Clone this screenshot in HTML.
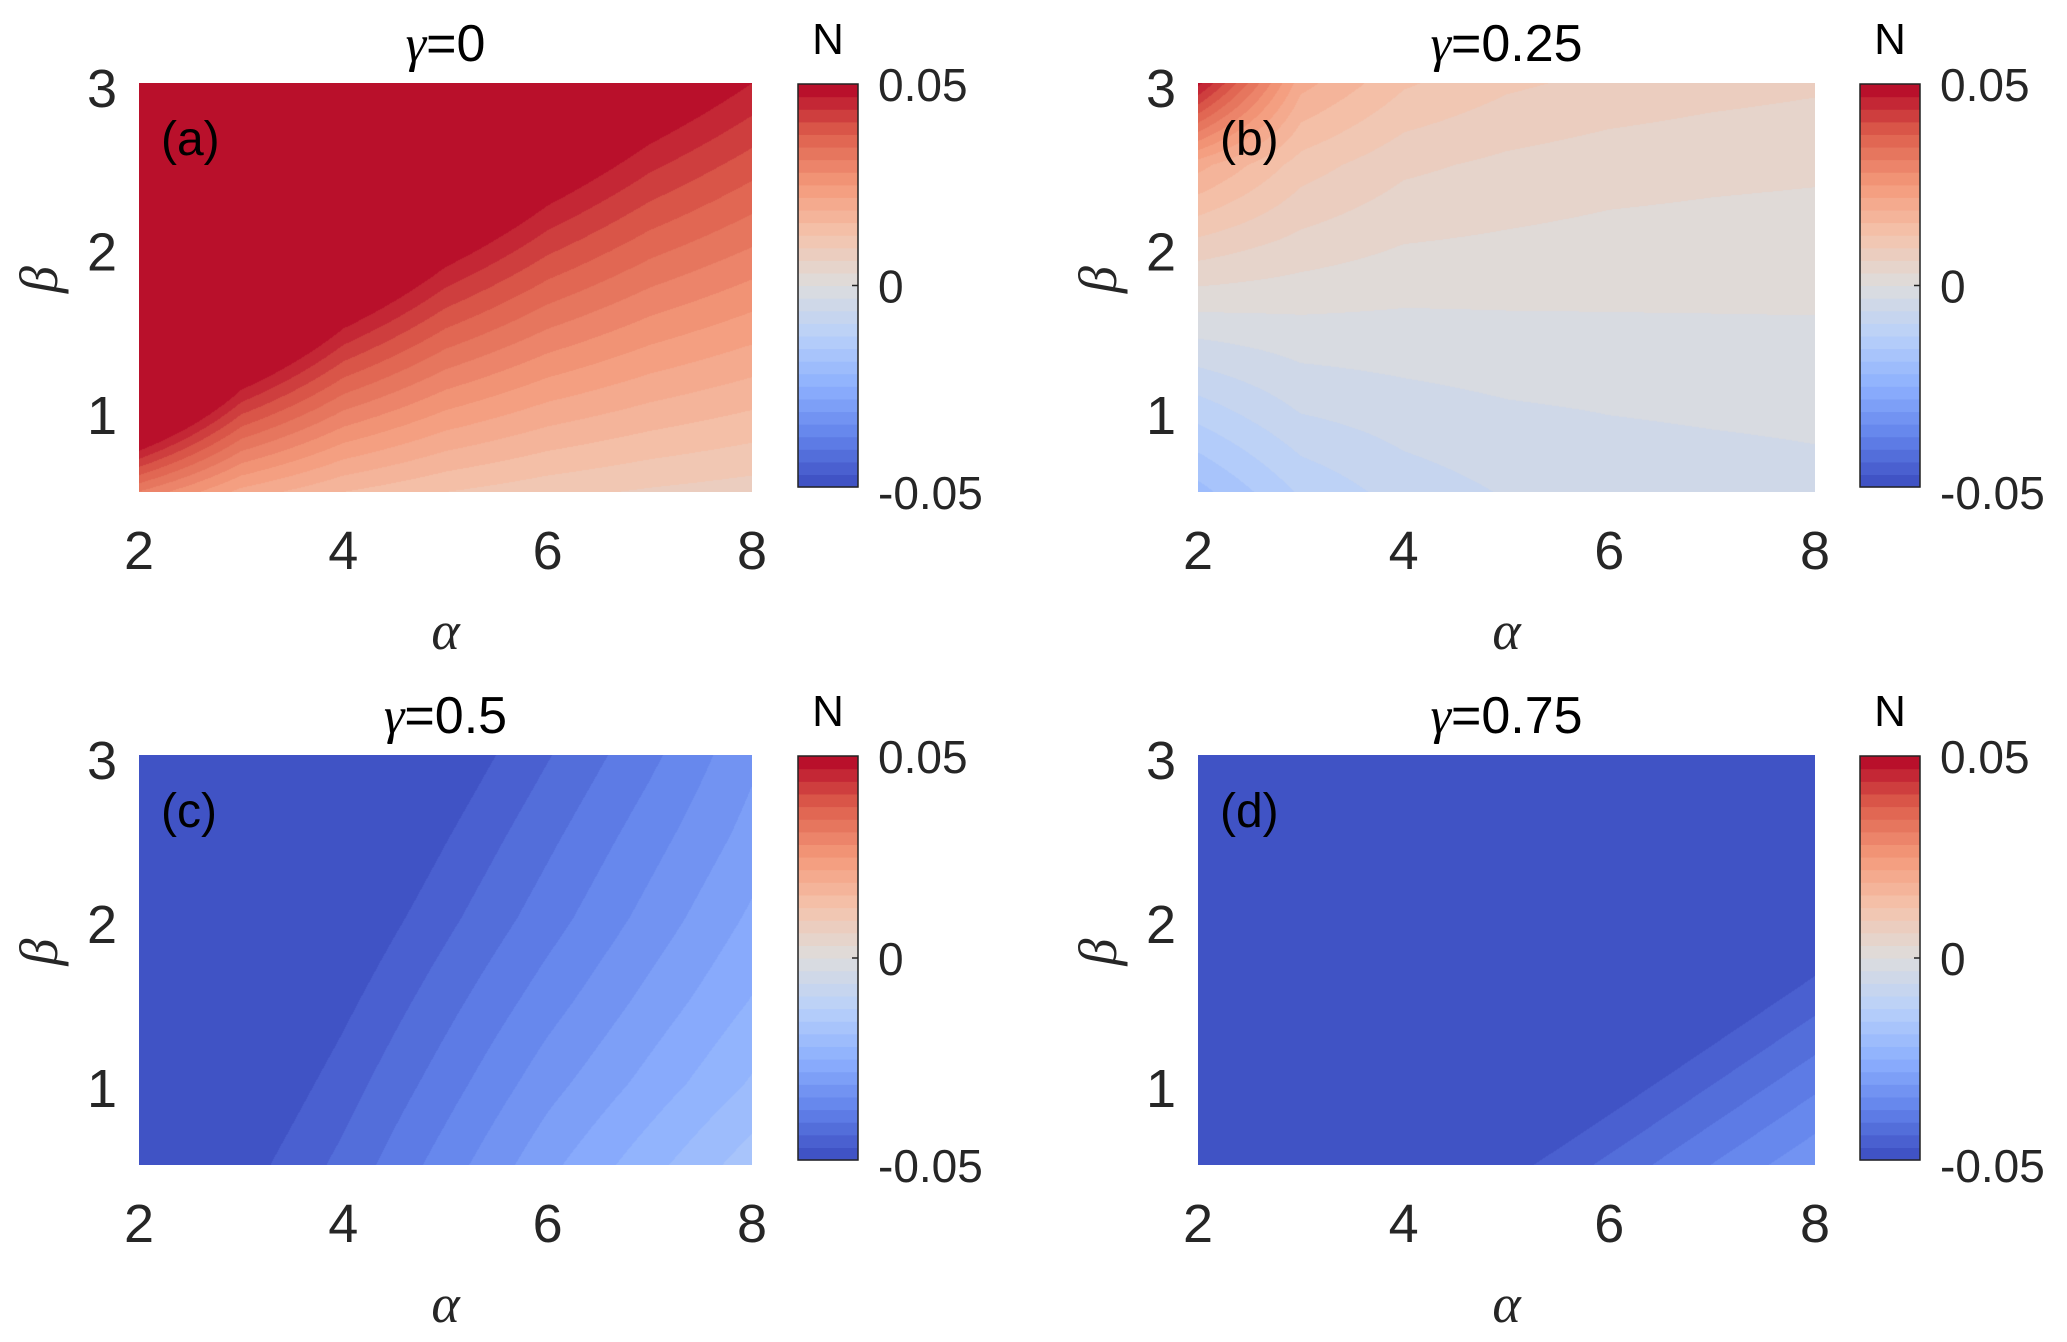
<!DOCTYPE html>
<html><head><meta charset="utf-8"><style>
body{margin:0;background:#fff;}
#wrap{position:relative;width:2067px;height:1342px;overflow:hidden;background:#fff;}
canvas{position:absolute;}
svg{position:absolute;left:0;top:0;}
</style></head><body>
<div id="wrap">
<canvas id="cv-a"></canvas>
<canvas id="cv-b"></canvas>
<canvas id="cv-c"></canvas>
<canvas id="cv-d"></canvas>
<svg id="ov" width="2067" height="1342" xmlns="http://www.w3.org/2000/svg"></svg>
</div>
<script>
// grid axes
const alphas = [2,3,4,5,6,7,8];
const betas = [0.5,1,1.5,2,2.5,3];
const xTicks = [2,4,6,8];
const yTicks = [1,2,3];
const cbTicks = [0.05,0,-0.05];
const cbTickLabels = ["0.05","0","-0.05"];
const nLevels = 32;
const titles = ["0","0.25","0.5","0.75"];
const panelLabels = ["(a)","(b)","(c)","(d)"];
// values N[alphaIndex][betaIndex] (values beyond ±0.05 saturate in the colour scale)
const valuesA = [
 [0.031,0.0625,0.094,0.125,0.156,0.1875],
 [0.0208,0.0417,0.0625,0.0833,0.104,0.125],
 [0.0156,0.0313,0.0469,0.0625,0.078,0.094],
 [0.0125,0.025,0.0375,0.05,0.0625,0.075],
 [0.0104,0.0208,0.0313,0.0417,0.052,0.0625],
 [0.0089,0.0179,0.0268,0.0357,0.0446,0.0536],
 [0.0078,0.0156,0.0234,0.0313,0.039,0.0469]];
const valuesB = [
 [-0.020,-0.011,-0.002,0.008,0.020,0.048],
 [-0.012,-0.006,-0.001,0.005,0.011,0.020],
 [-0.008,-0.0045,-0.001,0.003,0.007,0.013],
 [-0.006,-0.0035,-0.0007,0.0025,0.0055,0.010],
 [-0.005,-0.003,-0.0005,0.002,0.0045,0.0085],
 [-0.0045,-0.0027,-0.0004,0.0018,0.004,0.0075],
 [-0.004,-0.0025,-0.0003,0.0016,0.0037,0.0068]];
const valuesC = [
 [-0.0542,-0.0567,-0.0592,-0.0617,-0.0643,-0.0668],
 [-0.0485,-0.0510,-0.0535,-0.0560,-0.0586,-0.0610],
 [-0.0428,-0.0453,-0.0478,-0.0503,-0.0529,-0.0554],
 [-0.0360,-0.0390,-0.0418,-0.0446,-0.0471,-0.0497],
 [-0.0290,-0.0325,-0.0358,-0.0389,-0.0414,-0.0440],
 [-0.0230,-0.0270,-0.0302,-0.0332,-0.0357,-0.0383],
 [-0.0170,-0.0215,-0.0248,-0.0275,-0.0300,-0.0320]];
const valuesD = [
 [-0.0647,-0.0712,-0.0777,-0.0842,-0.0907,-0.0972],
 [-0.0592,-0.0657,-0.0722,-0.0787,-0.0852,-0.0917],
 [-0.0538,-0.0603,-0.0668,-0.0733,-0.0798,-0.0863],
 [-0.0483,-0.0548,-0.0613,-0.0678,-0.0743,-0.0808],
 [-0.0429,-0.0494,-0.0559,-0.0624,-0.0689,-0.0754],
 [-0.0374,-0.0439,-0.0504,-0.0569,-0.0634,-0.0699],
 [-0.0319,-0.0384,-0.0449,-0.0514,-0.0579,-0.0644]];

const panels = [
 {id:'a', vals:valuesA, x0:139, x1:752, y0:83, y1:492, cbx:798},
 {id:'b', vals:valuesB, x0:1198, x1:1815, y0:83, y1:492, cbx:1860},
 {id:'c', vals:valuesC, x0:139, x1:752, y0:755, y1:1165, cbx:798},
 {id:'d', vals:valuesD, x0:1198, x1:1815, y0:755, y1:1165, cbx:1860}];

const cmapStops=[[0,[59,76,192]],[0.125,[98,130,234]],[0.25,[141,176,254]],[0.375,[184,208,249]],[0.5,[221,221,221]],[0.625,[244,196,173]],[0.75,[244,154,123]],[0.875,[222,96,77]],[1,[180,4,38]]];
function cmap(t){t=Math.max(0,Math.min(1,t));for(let i=1;i<cmapStops.length;i++){if(t<=cmapStops[i][0]){const a=cmapStops[i-1],b=cmapStops[i];const f=(t-a[0])/(b[0]-a[0]);return a[1].map((c,k)=>Math.round(c+(b[1][k]-c)*f));}}return cmapStops[cmapStops.length-1][1];}
const vmin=-0.05,vmax=0.05;
function levelColor(v){let k=Math.floor((v-vmin)/(vmax-vmin)*nLevels);k=Math.max(0,Math.min(nLevels-1,k));return cmap((k+0.5)/nLevels);}
function sample(vals,a,b){
 let i=(a-alphas[0])/(alphas[1]-alphas[0]);let j=(b-betas[0])/(betas[1]-betas[0]);
 i=Math.max(0,Math.min(alphas.length-1.0001,i));j=Math.max(0,Math.min(betas.length-1.0001,j));
 const i0=Math.floor(i),j0=Math.floor(j),fi=i-i0,fj=j-j0;
 return vals[i0][j0]*(1-fi)*(1-fj)+vals[i0+1][j0]*fi*(1-fj)+vals[i0][j0+1]*(1-fi)*fj+vals[i0+1][j0+1]*fi*fj;}

const NS='http://www.w3.org/2000/svg';
const ov=document.getElementById('ov');
function mk(tag,attrs,parent){const e=document.createElementNS(NS,tag);for(const k in attrs)e.setAttribute(k,attrs[k]);(parent||ov).appendChild(e);return e;}
function txt(s,attrs,parent){const e=mk('text',attrs,parent);e.textContent=s;return e;}

panels.forEach((p,pi)=>{
 const xs=a=>p.x0+(a-2)/(8-2)*(p.x1-p.x0);
 const ys=b=>p.y1-(b-0.5)/(3-0.5)*(p.y1-p.y0);
 const cv=document.getElementById('cv-'+p.id);
 const W=p.x1-p.x0,H=p.y1-p.y0;
 cv.width=W;cv.height=H;cv.style.left=p.x0+'px';cv.style.top=p.y0+'px';
 const ctx=cv.getContext('2d');const img=ctx.createImageData(W,H);
 for(let y=0;y<H;y++){const b=3-(y+0.5)/H*2.5;for(let x=0;x<W;x++){const a=2+(x+0.5)/W*6;const c=levelColor(sample(p.vals,a,b));const o=(y*W+x)*4;img.data[o]=c[0];img.data[o+1]=c[1];img.data[o+2]=c[2];img.data[o+3]=255;}}
 ctx.putImageData(img,0,0);
 const g=mk('g',{});
 
 
 const cx=(p.x0+p.x1)/2;
 const t=txt('',{x:cx,y:p.y0-22,'font-size':52,'text-anchor':'middle','font-family':'Liberation Sans, sans-serif',fill:'#000'},g);
 
 
 const ts=document.createElementNS(NS,'tspan');ts.setAttribute('font-family','Liberation Serif, serif');ts.setAttribute('font-style','italic');ts.textContent='γ';t.appendChild(ts);
 const ts2=document.createElementNS(NS,'tspan');ts2.textContent='='+titles[pi];t.appendChild(ts2);
 const pl=txt(panelLabels[pi],{x:p.x0+22,y:p.y0+72,'font-size':48,'font-family':'Liberation Sans, sans-serif',fill:'#000'},g);
 
 
 xTicks.forEach(v=>{const e=txt(String(v),{x:xs(v),y:p.y1+77,'font-size':54,'text-anchor':'middle','font-family':'Liberation Sans, sans-serif',fill:'#262626'},g);
  
  });
 yTicks.forEach(v=>{const e=txt(String(v),{x:p.x0-22,y:ys(v)+24,'font-size':54,'text-anchor':'end','font-family':'Liberation Sans, sans-serif',fill:'#262626'},g);
  
  });
 const xl=txt('α',{x:cx,y:p.y1+157,'font-size':54,'text-anchor':'middle','font-family':'Liberation Serif, serif','font-style':'italic',fill:'#262626'},g);
 
 
 const yc=(p.y0+p.y1)/2-8, ylx=p.x0-82;
 const yl=txt('β',{x:ylx,y:yc,'font-size':54,'text-anchor':'middle','font-family':'Liberation Serif, serif','font-style':'italic',fill:'#262626',transform:`rotate(-90 ${ylx} ${yc})`},g);
 
 
 // colorbar
 const cbTop=p.y0+1,cbBot=p.y1-5,cbW=60;
 const cbs=v=>cbBot-(v-vmin)/(vmax-vmin)*(cbBot-cbTop);
 const cg=mk('g',{},g);
 
 
 for(let k=0;k<nLevels;k++){const lo=vmin+k*(vmax-vmin)/nLevels,hi=lo+(vmax-vmin)/nLevels;const c=cmap((k+0.5)/nLevels);
  const r=mk('rect',{x:p.cbx,y:cbs(hi),width:cbW,height:cbs(lo)-cbs(hi)+0.6,fill:`rgb(${c[0]},${c[1]},${c[2]})`},cg);
  
  }
 mk('rect',{x:p.cbx,y:cbTop,width:cbW,height:cbBot-cbTop,fill:'none',stroke:'#222','stroke-width':1.5},cg);
 mk('line',{x1:p.cbx+cbW-6,x2:p.cbx+cbW,y1:cbs(0),y2:cbs(0),stroke:'#222','stroke-width':1.5},cg);
 cbTicks.forEach((v,i)=>{const e=txt(cbTickLabels[i],{x:p.cbx+cbW+20,y:cbs(v)+(v<0?22:17),'font-size':46,'font-family':'Liberation Sans, sans-serif',fill:'#262626'},cg);
  
  });
 const n=txt('N',{x:p.cbx+cbW/2,y:p.y0-29,'font-size':44,'text-anchor':'middle','font-family':'Liberation Sans, sans-serif',fill:'#000'},cg);
 
 
});
</script>
</body></html>
